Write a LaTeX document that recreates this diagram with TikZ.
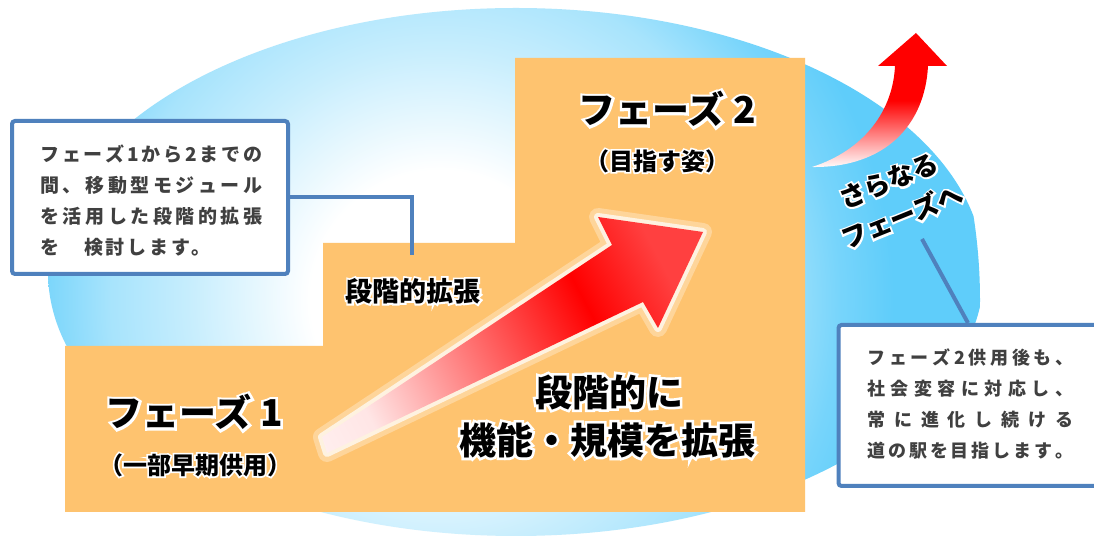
\documentclass[tikz,border=0pt]{standalone}
\usepackage{fontspec}
\setmainfont{Noto Sans CJK JP}
\newfontfamily\memofont[LetterSpace=15]{Noto Sans CJK JP}
\usetikzlibrary{positioning}
\definecolor{stepfill}{RGB}{254,195,111}
\definecolor{boxline}{RGB}{79,129,189}
\definecolor{skyedge}{RGB}{95,205,250}
\definecolor{memotext}{RGB}{64,64,64}
\pgfdeclareradialshading{skyglow}{\pgfpointorigin}{color(0bp)=(white); color(6bp)=(white); color(11.6bp)=(skyedge!35); color(15.3bp)=(skyedge!55); color(18.5bp)=(skyedge!85); color(21bp)=(skyedge); color(50bp)=(skyedge)}
\pgfdeclarehorizontalshading{risefade}{100bp}{color(0bp)=(white); color(25bp)=(white!90!red); color(62bp)=(red); color(75bp)=(red!75!white); color(100bp)=(red!75!white)}
\pgfdeclareverticalshading{upfade}{100bp}{color(0bp)=(white); color(25bp)=(white); color(50bp)=(red); color(100bp)=(red)}
% white halo behind a label
\newcommand{\glow}[1]{\makebox[0pt][l]{\color{white}\addfontfeature{FakeBold=14}#1}#1}
\ExplSyntaxOn
\NewDocumentCommand\spreadline{mm}{\makebox[#1][s]{\tl_map_inline:nn{#2}{##1\hfil}\unskip}}
\ExplSyntaxOff

\begin{document}
\begin{tikzpicture}[x=0.5pt,y=-0.5pt,
    steplabel/.style={inner sep=0pt,font=\bfseries\fontsize{18.5}{20}\selectfont},
    sublabel/.style={inner sep=0pt,font=\bfseries\fontsize{12}{14}\selectfont},
    midlabel/.style={inner sep=0pt,font=\bfseries\fontsize{13.5}{15}\selectfont},
    nextlabel/.style={inner sep=0pt,rotate=22,font=\bfseries\fontsize{13}{14}\selectfont},
    memobox/.style={draw=boxline,line width=2pt,fill=white,rounded corners=1.5pt,inner sep=0pt},
    memoline/.style={draw=boxline,line width=2pt},
    memotxt/.style={anchor=west,inner sep=0pt,text=memotext,font=\memofont\bfseries\fontsize{9.5}{11}\selectfont},
    rise path/.style={insert path={(322,437) -- (612,245) -- (598,217) -- (703,232) -- (658,328) -- (643,302) -- (327,453) -- cycle}},
    up path/.style={insert path={(812,167) .. controls (865,150) and (893,110) .. (895,66) -- (878,66) -- (916,33) -- (947,66) -- (928,66) .. controls (925,125) and (885,168) .. (812,167) -- cycle}}]
\useasboundingbox[fill=white] (0,0) rectangle (1094,539);

% background and steps
\begin{scope}
  \clip (516,272) ellipse [x radius=234pt, y radius=132pt];
  \shade[shading=skyglow] (440,300) circle [radius=270pt];
\end{scope}
\fill[stepfill] (65,346) -- (323,346) -- (323,243) -- (515,243) -- (515,58) -- (805,58) -- (805,512) -- (65,512) -- cycle;

% rising arrow
\draw[white,line width=9pt,opacity=.3,line join=round,rise path];
\draw[white,line width=4pt,opacity=.7,line join=round,rise path];
\shade[shading=risefade,shading angle=28,rise path];

\node[steplabel] (phase1) at (194,412) {\glow{フェーズ 1}};
\node[sublabel] (phase1sub) at (195,465) {\glow{（一部早期供用）}};
\node[steplabel] (phase2) at (667,109) {\glow{フェーズ 2}};
\node[sublabel] (phase2sub) at (657,161) {\glow{（目指す姿）}};
\node[midlabel] (stepmid) at (413,291) {\glow{段階的拡張}};
\node[steplabel] (growa) at (609,392) {\glow{段階的に}};
\node[steplabel] (growb) at (607,440) {\glow{機能・規模を拡張}};

% next phase
\shade[shading=upfade,up path];
\node[nextlabel] (nexta) at (889,181) {\glow{さらなる}};
\node[nextlabel] (nextb) at (902,216) {\glow{フェーズへ}};

% callouts
\node[memobox,minimum width=138pt,minimum height=76.5pt] (stepmemo) at (150,197.5) {};
\coordinate (stepmark) at (412,255);
\draw[memoline] (stepmemo.east) -| (stepmark);
\node[memotxt] (sm1) at (40,154) {\spreadline{111pt}{フェーズ1から2までの}};
\node[memotxt] (sm2) at (40,185) {\spreadline{111pt}{間、移動型モジュール}};
\node[memotxt] (sm3) at (40,216) {\spreadline{111pt}{を活用した段階的拡張}};
\node[memotxt] (sm4) at (40,247) {を　検討します。};

\node[memobox,minimum width=141pt,minimum height=80.5pt] (futurememo) at (979.5,405.5) {};
\coordinate (futuremark) at (922,239);
\coordinate (futurefoot) at (968,325);
\draw[memoline] (futuremark) -- (futurememo.north -| futurefoot);
\node[memotxt,font=\memofont\bfseries\fontsize{9}{11}\selectfont] (fm1) at (867,358) {\spreadline{103pt}{フェーズ2供用後も、}};
\node[memotxt,font=\memofont\bfseries\fontsize{9}{11}\selectfont] (fm2) at (867,389) {\spreadline{103pt}{社会変容に対応し、}};
\node[memotxt,font=\memofont\bfseries\fontsize{9}{11}\selectfont] (fm3) at (867,420) {\spreadline{103pt}{常に進化し続ける}};
\node[memotxt,font=\memofont\bfseries\fontsize{9}{11}\selectfont] (fm4) at (867,451) {\spreadline{103pt}{道の駅を目指します。}};
\end{tikzpicture}
\end{document}
